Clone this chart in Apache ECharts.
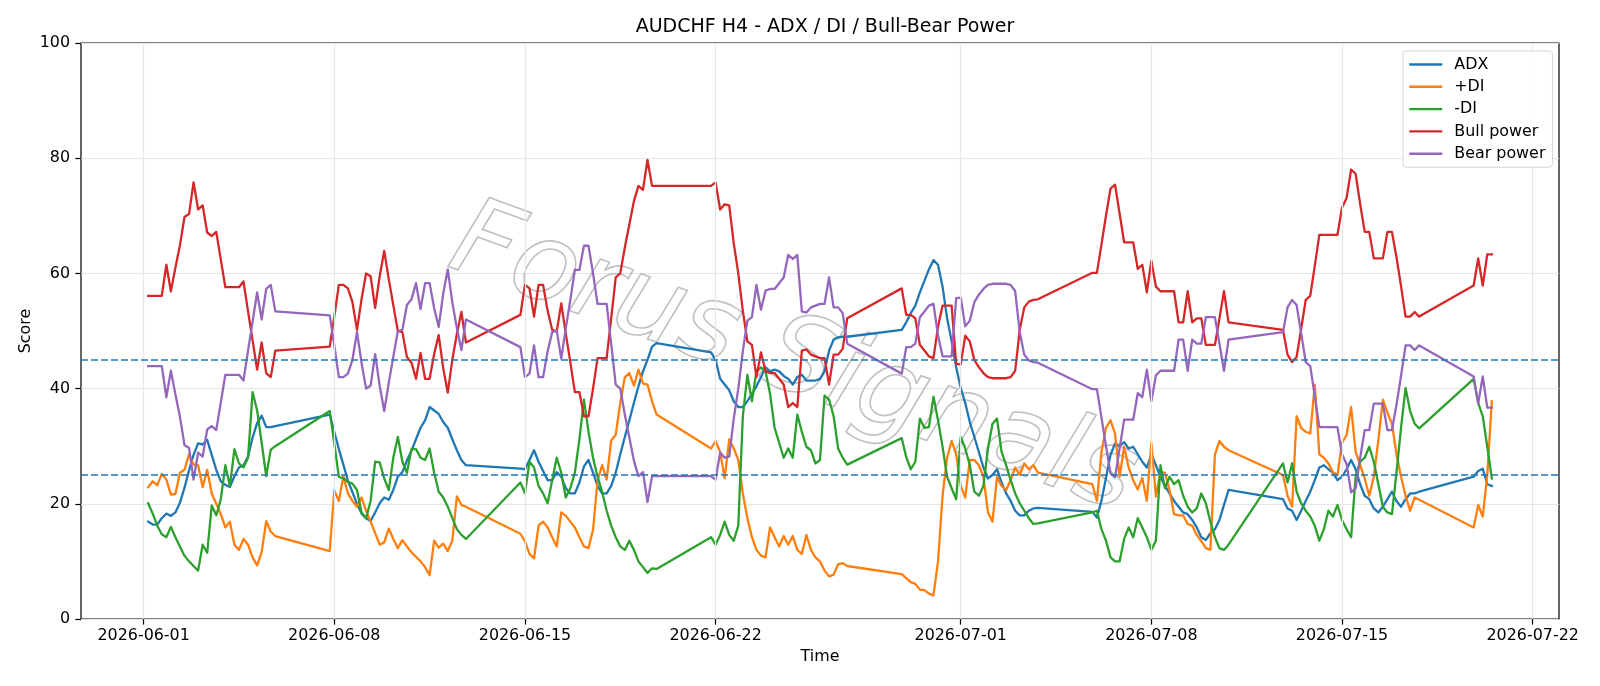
<!DOCTYPE html>
<html><head><meta charset="utf-8">
<script src="https://cdn.jsdelivr.net/npm/echarts@6/dist/echarts.min.js"></script>
<style>html,body{margin:0;padding:0;background:#fff}#c{width:1600px;height:686px}</style>
</head><body><div id="c"></div>
<script>
// H4 trading sessions (UTC): each session is a run of consecutive 4-hour bars
const sessions = [
  ['2026-06-01T04:00:00Z','2026-06-05T20:00:00Z'],
  ['2026-06-07T20:00:00Z','2026-06-12T20:00:00Z'],
  ['2026-06-14T20:00:00Z','2026-06-19T20:00:00Z'],
  ['2026-06-21T20:00:00Z','2026-06-26T20:00:00Z'],
  ['2026-06-28T20:00:00Z','2026-07-03T20:00:00Z'],
  ['2026-07-05T20:00:00Z','2026-07-10T20:00:00Z'],
  ['2026-07-12T20:00:00Z','2026-07-17T20:00:00Z'],
  ['2026-07-19T20:00:00Z','2026-07-20T12:00:00Z']
];
const tickDates = ['2026-06-01','2026-06-08','2026-06-15','2026-06-22','2026-07-01','2026-07-08','2026-07-15','2026-07-22'];
const refLevels = [25, 45];
const watermarkText = 'Forus Signals';

const adx = [
 16.9,16.4,16.4,17.5,18.3,17.9,18.5,20.2,22.8,25.8,28.5,30.5,30.3,31.1,28.5,25.9,23.9,23.3,22.9,24.8,26.3,26.7,28.2,31.5,34.0,35.3,33.3,33.3,33.5,
 35.5,32.5,29.5,26.8,24.0,22.0,20.0,18.3,17.5,17.0,18.5,20.1,21.1,20.7,22.4,24.7,25.5,27.5,29.2,31.2,33.2,34.5,36.8,36.2,35.6,34.2,33.2,31.2,29.3,27.6,26.7,
 26.1,26.0,27.6,29.3,27.3,25.7,24.1,24.1,25.5,24.7,22.7,21.8,21.8,23.7,26.5,27.6,25.4,23.1,21.8,21.8,23.1,25.4,28.6,31.6,34.5,37.5,40.4,43.0,45.0,47.3,47.9,
 46.3,45.0,41.7,40.7,39.7,37.8,36.8,36.8,37.8,39.1,40.4,42.0,43.7,43.0,43.3,43.0,42.2,41.7,40.7,42.0,42.4,41.4,41.4,41.4,41.7,43.0,46.6,48.5,48.9,49.0,49.0,
 50.2,51.5,53.1,54.4,56.7,58.7,60.7,62.3,61.5,57.7,52.2,48.2,43.7,40.1,37.5,34.2,31.6,29.0,26.3,24.4,25.0,26.0,23.7,21.8,20.5,18.8,18.0,18.0,18.8,19.2,19.3,
 18.6,17.6,20.5,24.5,28.5,30.5,30.0,30.7,29.6,29.9,28.6,27.3,26.3,28.6,26.7,24.7,23.1,21.8,20.5,19.5,18.5,18.2,17.2,15.9,14.2,13.7,14.9,15.6,17.2,19.8,22.4,
 20.8,19.2,18.8,17.2,18.8,20.5,22.1,24.1,26.3,26.7,26.0,25.4,24.1,24.7,26.0,27.6,26.0,23.4,21.4,20.8,19.2,18.5,19.5,20.8,22.1,20.5,19.5,20.8,21.8,21.8,22.1,
 24.7,25.7,26.1,23.4,23.1
];
const plusDI = [
 22.9,23.9,23.2,25.2,24.2,21.6,21.7,25.4,25.9,28.6,26.8,26.7,22.9,25.9,21.8,20.0,18.2,15.9,16.9,12.9,12.0,13.9,12.9,10.7,9.3,11.6,17.0,15.2,14.4,
 11.8,22.3,20.5,24.8,21.8,20.5,19.5,21.1,18.8,16.9,14.9,12.9,13.3,15.7,13.9,12.3,13.7,12.6,11.6,10.8,10.0,9.0,7.6,13.6,12.4,13.1,11.8,13.6,21.3,19.8,19.5,
 14.8,13.5,11.3,10.5,16.2,16.9,15.9,14.2,12.6,18.5,17.9,16.9,15.9,14.2,12.6,12.3,15.5,24.0,26.7,24.2,31.0,32.0,37.5,42.0,42.7,40.5,43.3,40.9,40.7,37.8,35.5,
 29.6,30.9,29.0,24.4,31.2,29.6,27.6,21.8,17.5,14.2,12.0,11.0,10.7,15.9,14.2,12.6,14.4,12.9,14.4,12.0,11.3,14.6,12.0,10.7,10.0,8.4,7.4,7.7,9.5,9.7,9.2,
 7.8,7.1,6.4,6.1,5.1,5.0,4.4,4.1,10.0,21.4,28.0,30.9,28.6,23.1,21.1,27.6,27.6,26.7,24.7,18.5,16.9,24.7,23.1,22.4,24.1,26.3,25.0,27.0,26.0,26.7,25.4,
 23.4,20.5,29.0,33.2,34.5,32.2,24.7,29.9,26.3,24.1,22.5,24.5,20.5,30.6,21.3,25.4,25.4,22.4,18.2,18.0,18.0,16.5,16.2,14.6,13.5,12.3,12.0,28.6,30.9,29.9,29.3,
 25.0,21.4,19.5,35.2,33.2,32.5,32.2,40.7,28.6,28.0,27.0,25.5,25.0,30.6,31.9,36.8,29.0,26.7,24.4,21.4,24.7,31.0,38.1,35.8,33.9,28.6,24.7,21.4,18.8,21.1,20.7,
 15.9,19.8,17.8,25.0,37.8
];
const minusDI = [
 20.1,18.3,16.2,14.7,14.2,16.0,14.2,12.6,11.0,10.0,9.2,8.4,12.9,11.5,19.7,18.0,20.8,26.7,23.1,29.5,27.0,26.3,28.0,39.4,36.2,30.6,24.8,29.4,30.0,
 36.1,30.5,24.7,24.4,23.8,23.5,22.4,18.5,17.5,20.5,27.3,27.2,24.4,22.4,28.0,31.6,27.3,25.4,29.5,29.5,28.0,27.6,29.6,25.4,22.1,21.1,19.5,17.5,15.6,14.6,13.9,
 23.7,21.8,27.3,26.3,23.1,21.8,20.1,24.1,28.0,25.4,21.1,22.7,25.4,31.2,38.1,32.5,28.0,24.7,22.1,18.8,16.2,14.2,12.6,12.0,13.6,12.0,10.0,9.0,8.0,8.8,8.7,
 14.2,12.9,14.6,16.9,14.6,13.6,16.2,35.2,42.4,37.8,43.0,43.7,43.0,39.1,33.2,30.6,28.0,29.6,28.0,35.5,32.5,29.9,29.3,27.0,27.6,38.8,38.1,35.2,29.6,28.0,26.8,
 31.4,28.1,26.0,27.3,34.8,33.2,33.3,38.6,34.5,29.9,24.7,22.7,20.8,31.6,29.6,26.7,22.1,21.4,23.1,29.6,33.9,34.8,29.0,26.7,24.1,21.8,20.1,18.8,17.5,16.5,16.6,
 18.5,18.8,15.6,13.6,10.7,10.0,10.0,13.9,15.9,14.2,17.5,15.9,14.2,12.0,13.6,26.7,22.7,24.7,23.4,24.1,21.4,19.5,18.5,19.2,21.8,20.1,16.9,14.2,12.3,12.0,12.9,
 27.0,23.7,27.0,22.1,20.1,18.8,17.8,16.2,13.6,15.6,18.8,17.8,19.8,17.2,15.6,14.2,24.7,27.3,28.0,29.9,27.3,23.4,19.5,18.5,18.2,25.4,33.2,40.1,36.1,33.9,33.1,
 41.7,37.5,35.2,29.9,24.4
];
const bullPower = [
 56.1,56.1,56.1,56.1,61.5,56.9,61.0,64.9,69.8,70.3,75.8,71.1,71.8,67.1,66.5,67.2,62.4,57.6,57.6,57.6,57.6,58.6,53.4,48.4,43.3,48.0,42.7,42.0,46.6,
 47.3,52.5,58.0,58.0,57.4,55.0,50.2,55.5,60.0,59.5,54.0,59.5,63.9,59.0,54.5,50.0,49.8,45.5,44.5,41.7,46.2,41.7,41.7,46.0,49.3,43.5,39.3,45.0,49.5,53.3,48.0,
 52.8,58.0,57.4,52.5,58.0,58.0,53.5,50.2,49.9,54.8,49.5,44.6,39.4,39.4,35.2,35.2,40.0,45.3,45.3,45.3,52.2,59.3,60.0,64.5,68.5,72.5,75.2,74.5,79.7,75.2,75.2,
 75.2,75.8,71.1,72.0,71.8,65.2,60.0,53.5,48.2,47.6,42.0,46.3,43.0,42.7,42.7,41.7,40.7,36.8,37.5,36.8,46.6,46.8,45.9,45.6,45.3,45.3,40.7,45.9,45.9,46.9,52.2,
 57.4,52.8,52.8,52.2,47.6,46.6,45.6,45.3,50.8,54.4,54.4,54.4,44.3,44.2,49.2,48.2,45.0,43.7,42.7,42.0,41.8,41.8,41.8,41.8,42.0,43.1,50.2,54.1,55.1,55.4,55.5,
 60.1,60.1,65.0,70.0,74.7,75.4,70.4,65.4,65.4,65.4,60.8,61.5,56.7,62.2,57.7,56.9,56.9,56.9,56.9,51.5,51.5,56.9,51.5,52.2,52.2,47.6,47.6,47.6,52.2,56.9,51.5,
 50.2,45.9,44.6,45.5,50.4,55.4,56.1,61.3,66.7,66.7,66.7,66.7,66.7,71.4,73.1,78.0,77.3,72.0,67.2,67.2,62.6,62.6,62.6,67.2,67.2,62.8,57.8,52.5,52.5,53.3,52.5,
 57.9,62.6,57.9,63.3,63.3
];
const bearPower = [
 43.9,43.9,43.9,43.9,38.5,43.1,39.0,35.1,30.2,29.7,24.2,28.9,28.2,32.9,33.5,32.8,37.6,42.4,42.4,42.4,42.4,41.4,46.6,51.6,56.7,52.0,57.3,58.0,53.4,
 52.7,47.5,42.0,42.0,42.6,45.0,49.8,44.5,40.0,40.5,46.0,40.5,36.1,41.0,45.5,50.0,50.2,54.5,55.5,58.3,53.8,58.3,58.3,54.0,50.7,56.5,60.7,55.0,50.5,46.7,52.0,
 47.2,42.0,42.6,47.5,42.0,42.0,46.5,49.8,50.1,45.2,50.5,55.4,60.6,60.6,64.8,64.8,60.0,54.7,54.7,54.7,47.8,40.7,40.0,35.5,31.5,27.5,24.8,25.5,20.3,24.8,24.8,
 24.8,24.2,28.9,28.0,28.2,34.8,40.0,46.5,51.8,52.4,58.0,53.7,57.0,57.3,57.3,58.3,59.3,63.2,62.5,63.2,53.4,53.2,54.1,54.4,54.7,54.7,59.3,54.1,54.1,53.1,47.8,
 42.6,47.2,47.2,47.8,52.4,53.4,54.4,54.7,49.2,45.6,45.6,45.6,55.7,55.8,50.8,51.8,55.0,56.3,57.3,58.0,58.2,58.2,58.2,58.2,58.0,56.9,49.8,45.9,44.9,44.6,44.5,
 39.9,39.9,35.0,30.0,25.3,24.6,29.6,34.6,34.6,34.6,39.2,38.5,43.3,37.8,42.3,43.1,43.1,43.1,43.1,48.5,48.5,43.1,48.5,47.8,47.8,52.4,52.4,52.4,47.8,43.1,48.5,
 49.8,54.1,55.4,54.5,49.6,44.6,43.9,38.7,33.3,33.3,33.3,33.3,33.3,28.6,26.9,22.0,22.7,28.0,32.8,32.8,37.4,37.4,37.4,32.8,32.8,37.2,42.2,47.5,47.5,46.7,47.5,
 42.1,37.4,42.1,36.7,36.7
];

const H4 = 4 * 3600 * 1000;
const times = [];
sessions.forEach(([a, b]) => { for (let t = Date.parse(a); t <= Date.parse(b); t += H4) times.push(t); });
const pairs = arr => times.map((t, i) => [t, arr[i]]);

const FONT = 'DejaVu Sans';
const xMin = Date.parse('2026-05-29T16:48:00Z');
const xMax = Date.parse('2026-07-22T23:12:00Z');
const tickVals = tickDates.map(d => Date.parse(d + 'T00:00:00Z'));
const pad = n => (n < 10 ? '0' : '') + n;
const fmt = v => { const d = new Date(v); return d.getUTCFullYear() + '-' + pad(d.getUTCMonth() + 1) + '-' + pad(d.getUTCDate()); };

const seriesDefs = [
  ['ADX', adx, '#1f77b4'],
  ['+DI', plusDI, '#ff7f0e'],
  ['-DI', minusDI, '#2ca02c'],
  ['Bull power', bullPower, '#d62728'],
  ['Bear power', bearPower, '#9467bd']
];

const chart = echarts.init(document.getElementById('c'), null, { renderer: 'canvas' });
chart.setOption({
  animation: false,
  backgroundColor: '#fff',
  textStyle: { fontFamily: FONT },
  title: {
    text: 'AUDCHF H4 - ADX / DI / Bull-Bear Power',
    left: 820, top: 13, textAlign: 'center',
    textStyle: { fontFamily: FONT, fontSize: 19, fontWeight: 'normal', color: '#000' }
  },
  grid: { left: 81, right: 41, top: 43, bottom: 67, show: true, borderColor: '#000', borderWidth: 1.2, backgroundColor: 'transparent' },
  legend: {
    orient: 'vertical', left: 1403, top: 51, z: 10,
    data: seriesDefs.map(s => s[0]),
    icon: 'rect', itemWidth: 33, itemHeight: 2.4, itemGap: 6.3,
    padding: [5.5, 7, 5.5, 6.3],
    backgroundColor: 'rgba(255,255,255,0.85)', borderColor: '#d6d6d6', borderWidth: 1, borderRadius: 3,
    textStyle: { fontFamily: FONT, fontSize: 15.9, lineHeight: 16, color: '#000', padding: [0, 0, 0, 7] }
  },
  graphic: [
    {
      type: 'text', x: 793, y: 362, rotation: -20 * Math.PI / 180, z: 1, silent: true,
      style: { text: watermarkText, font: 'italic 108px "DejaVu Sans"', fill: 'rgba(255,255,255,0)',
        stroke: 'rgba(140,140,140,0.55)', lineWidth: 1.6, align: 'center', verticalAlign: 'middle' }
    },
    {
      type: 'text', x: 25.5, y: 331, rotation: Math.PI / 2, silent: true,
      style: { text: 'Score', font: '15.9px "DejaVu Sans"', fill: '#000', align: 'center', verticalAlign: 'middle' }
    }
  ],
  xAxis: {
    type: 'value', min: xMin, max: xMax,
    axisLine: { show: false },
    axisTick: { show: true, length: 5.6, lineStyle: { color: '#000', width: 1.2 }, customValues: tickVals },
    axisLabel: { customValues: tickVals, formatter: fmt, fontFamily: FONT, fontSize: 15.9, color: '#000', margin: 9 },
    splitLine: { show: false },
    name: 'Time', nameLocation: 'middle', nameGap: 29,
    nameTextStyle: { fontFamily: FONT, fontSize: 15.9, color: '#000' }
  },
  yAxis: {
    type: 'value', min: 0, max: 100, interval: 20,
    axisLine: { show: false },
    axisTick: { show: true, length: 5.6, lineStyle: { color: '#000', width: 1.2 } },
    axisLabel: { fontFamily: FONT, fontSize: 15.9, color: '#000', margin: 11 },
    splitLine: { show: true, lineStyle: { color: '#e6e6e6', width: 1.2 } }
  },
  series: [
    {
      type: 'line', name: '_vgrid', data: [], silent: true, z: 1,
      markLine: { symbol: 'none', silent: true, animation: false, label: { show: false },
        lineStyle: { color: '#e6e6e6', width: 1.2, type: 'solid' },
        data: tickVals.map(v => ({ xAxis: v })) }
    },
    ...seriesDefs.map(([name, arr, color]) => ({
      type: 'line', name, data: pairs(arr), showSymbol: false, symbol: 'none', z: 3,
      itemStyle: { color }, lineStyle: { color, width: 2.3, join: 'round', cap: 'square' }
    })),
    {
      type: 'line', name: '_ref', data: [], silent: true, z: 4,
      markLine: { symbol: 'none', silent: true, animation: false, label: { show: false },
        lineStyle: { color: '#1f77b4', width: 1.6, type: [7, 3] },
        data: refLevels.map(v => ({ yAxis: v })) }
    }
  ]
});
</script></body></html>
